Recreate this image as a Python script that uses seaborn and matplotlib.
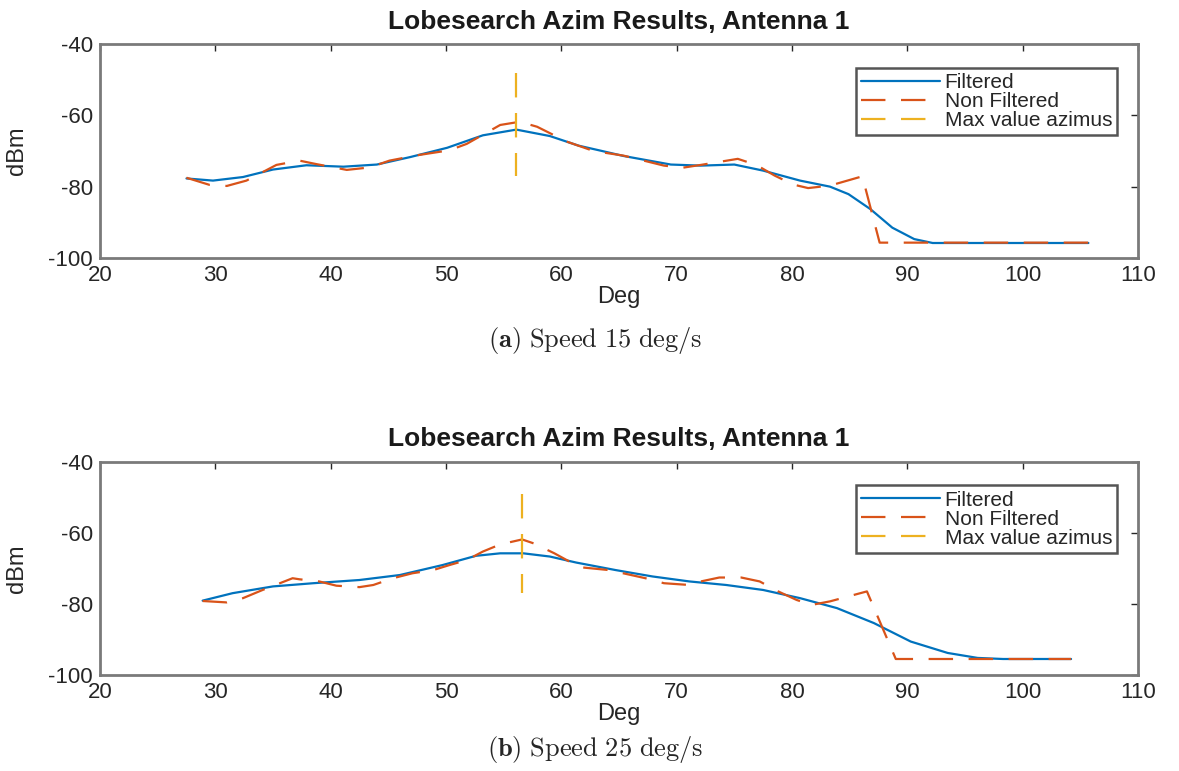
import numpy as np
import pandas as pd
import matplotlib
matplotlib.use("Agg")
import matplotlib.pyplot as plt
import seaborn as sns

# ---------------- data ----------------
# Panel (a): speed 15 deg/s
a_filt_deg = [27.5, 29.8, 32.4, 35.0, 37.9, 41.1, 44.0, 46.9, 50.1, 53.2, 56.1, 59.0,
              61.5, 63.4, 65.4, 69.5, 72.1, 75.0, 77.5, 80.7, 83.3, 84.9, 86.8, 88.7,
              90.6, 92.2, 95.0, 105.7]
a_filt_dbm = [-77.7, -78.3, -77.3, -75.2, -74.0, -74.4, -73.8, -71.7, -69.1, -65.6, -64.0, -65.8,
              -68.5, -69.9, -71.4, -73.8, -74.1, -73.8, -75.5, -78.3, -80.0, -82.1, -86.3, -91.5,
              -94.7, -95.8, -95.8, -95.8]
a_raw_deg = [27.5, 29.5, 31.0, 32.7, 35.3, 37.3, 38.8, 41.4, 43.4, 45.1, 47.5, 50.3, 51.8,
             54.7, 56.4, 57.9, 60.5, 62.8, 65.4, 68.9, 70.5, 72.1, 75.3, 76.9, 78.5, 80.1,
             81.4, 83.3, 86.1, 87.6, 105.7]
a_raw_dbm = [-77.5, -79.5, -79.8, -78.3, -73.9, -72.7, -73.7, -75.3, -74.6, -72.7, -71.2, -69.8, -68.0,
             -62.7, -61.8, -63.2, -67.4, -70.0, -71.3, -74.1, -74.7, -73.9, -72.2, -73.9, -76.9, -79.4,
             -80.4, -79.7, -77.1, -95.7, -95.7]
a_max_deg = [56.1, 56.1]
a_max_dbm = [-48.0, -77.0]

# Panel (b): speed 25 deg/s
b_filt_deg = [28.9, 31.5, 35.0, 38.5, 42.5, 46.0, 49.7, 52.6, 54.7, 56.7, 59.0, 61.3,
              64.7, 67.9, 71.1, 74.3, 77.5, 80.7, 83.9, 87.1, 90.3, 93.5, 96.1, 98.3, 104.2]
b_filt_dbm = [-79.1, -77.0, -75.1, -74.2, -73.3, -71.9, -69.1, -66.5, -65.8, -65.8, -66.7, -68.4,
              -70.5, -72.3, -73.7, -74.7, -76.1, -78.4, -81.2, -85.4, -90.6, -93.8, -95.2, -95.5, -95.5]
b_raw_deg = [28.9, 31.0, 32.4, 34.1, 35.6, 36.7, 37.3, 39.0, 40.5, 42.5, 43.7, 45.4, 47.1,
             48.9, 50.3, 51.8, 53.2, 54.7, 56.6, 57.6, 59.4, 61.6, 64.1, 67.3, 68.9, 71.1,
             72.1, 73.7, 75.6, 77.2, 78.8, 80.4, 81.7, 83.3, 86.5, 89.0, 104.2]
b_raw_dbm = [-79.2, -79.6, -78.4, -76.1, -74.2, -72.8, -73.1, -73.7, -74.9, -75.3, -74.7, -72.8, -71.4,
             -70.5, -69.1, -67.7, -65.3, -63.3, -61.9, -63.0, -65.8, -69.7, -70.5, -72.8, -74.2, -74.7,
             -73.7, -72.6, -72.6, -73.7, -76.5, -78.9, -80.3, -79.3, -76.5, -95.5, -95.5]
b_max_deg = [56.6, 56.6]
b_max_dbm = [-49.0, -77.0]

title = "Lobesearch Azim Results, Antenna 1"
series_labels = ["Filtered", "Non Filtered", "Max value azimus"]
captions = [r"$\mathbf{(a)}\ \mathrm{Speed\ 15\ deg/s}$", r"$\mathbf{(b)}\ \mathrm{Speed\ 25\ deg/s}$"]
x_ticks = [20, 30, 40, 50, 60, 70, 80, 90, 100, 110]
y_ticks = [-100, -80, -60, -40]

# ---------------- style ----------------
sns.set_style("white")
plt.rcParams['font.family'] = ['Liberation Sans', 'DejaVu Sans']
plt.rcParams['mathtext.fontset'] = 'cm'
plt.rcParams['axes.unicode_minus'] = False

BLUE = "#0072BD"
ORANGE = "#D95319"
YELLOW = "#EDB120"
DASH = (0, (11, 7))

fig = plt.figure(figsize=(11.79, 7.71), dpi=100)
ax_a = fig.add_axes([0.0848, 0.6654, 0.8804, 0.2775])
ax_b = fig.add_axes([0.0848, 0.1245, 0.8804, 0.2769])

panels = [
    (ax_a, a_filt_deg, a_filt_dbm, a_raw_deg, a_raw_dbm, a_max_deg, a_max_dbm),
    (ax_b, b_filt_deg, b_filt_dbm, b_raw_deg, b_raw_dbm, b_max_deg, b_max_dbm),
]

for ax, fx, fy, rx, ry, mx, my in panels:
    df_f = pd.DataFrame({"Deg": fx, "dBm": fy})
    df_r = pd.DataFrame({"Deg": rx, "dBm": ry})
    df_m = pd.DataFrame({"Deg": mx, "dBm": my})
    sns.lineplot(data=df_f, x="Deg", y="dBm", ax=ax, sort=False, estimator=None,
                 color=BLUE, linewidth=1.6, label=series_labels[0], legend=False)
    sns.lineplot(data=df_r, x="Deg", y="dBm", ax=ax, sort=False, estimator=None,
                 color=ORANGE, linewidth=1.6, linestyle=DASH, label=series_labels[1], legend=False)
    sns.lineplot(data=df_m, x="Deg", y="dBm", ax=ax, sort=False, estimator=None,
                 color=YELLOW, linewidth=1.6, linestyle=DASH, label=series_labels[2], legend=False)

    ax.set_xlim(20, 110)
    ax.set_ylim(-100, -40)
    ax.set_xticks(x_ticks)
    ax.set_yticks(y_ticks)
    ax.tick_params(direction="in", length=5, width=1.0, colors="#262626",
                   labelsize=16, top=True, right=True, labeltop=False, labelright=False,
                   pad=5)
    for sp in ax.spines.values():
        sp.set_color("#7a7a7a")
        sp.set_linewidth(2.0)
    ax.set_title(title, fontsize=19, fontweight="bold", color="#1a1a1a", pad=11)
    ax.set_xlabel("Deg", fontsize=17, color="#262626", labelpad=0)
    ax.set_ylabel("dBm", fontsize=17, color="#262626")
    ax.yaxis.set_label_coords(-0.069, 0.5)

    leg = ax.legend(loc="upper right", bbox_to_anchor=(0.980, 0.888), fontsize=15,
                    frameon=True, fancybox=False, framealpha=1, edgecolor="#555555",
                    handlelength=3.8, handletextpad=0.2, labelspacing=0.0,
                    borderpad=0.25, borderaxespad=0)
    leg.get_frame().set_linewidth(1.8)
    for t in leg.get_texts():
        t.set_color("#262626")

fig.text(0.505, 0.559, captions[0], ha="center", va="center", fontsize=19)
fig.text(0.505, 0.028, captions[1], ha="center", va="center", fontsize=19)

fig.savefig("out.png", dpi=100, facecolor="white")
